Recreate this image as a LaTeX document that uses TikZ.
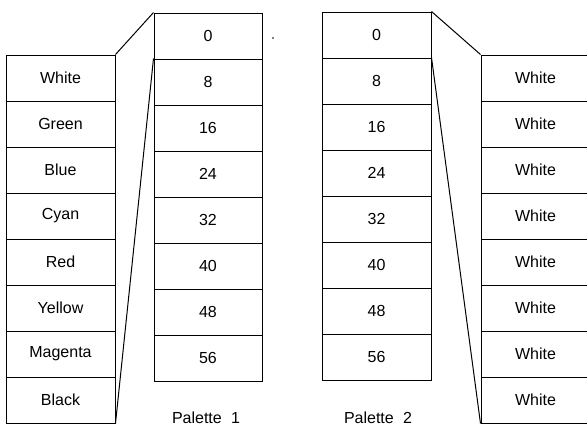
\documentclass[tikz,border=0pt]{standalone}
\usepackage{fontspec}
\setmainfont{Liberation Sans}
\begin{document}
\begin{tikzpicture}[x=1pt,y=-1pt,
  cell/.style={draw, line width=1pt, minimum width=109pt, minimum height=46pt, inner sep=0pt, font=\fontsize{16}{18}\selectfont},
  lbl/.style={inner sep=0pt, font=\fontsize{16}{18}\selectfont},
  link/.style={line width=1pt}]
\useasboundingbox (0,0) rectangle (587,426);
\clip (0,0) rectangle (587,426);
\foreach \c [count=\i from 0] in {White,Green,Blue,Cyan,Red,Yellow,Magenta,Black}
  \node[cell] (L\i) at (60.5,{78+46*\i}) {\c};
\foreach \n [count=\i from 0] in {0,8,16,24,32,40,48,56}
  \node[cell, minimum width=108pt] (A\i) at (208,{36+46*\i}) {\n};
\foreach \n [count=\i from 0] in {0,8,16,24,32,40,48,56}
  \node[cell] (B\i) at (376.5,{35+46*\i}) {\n};
\foreach \i in {0,...,7}
  \node[cell] (R\i) at (535.5,{78+46*\i}) {White};
\node[lbl, anchor=base] (P1) at (206,423) {Palette\kern0.3em\ 1};
\node[lbl, anchor=base] (P2) at (378,423) {Palette\kern0.3em\ 2};
\fill (273,38) circle (0.9);
\draw[link] (L0.north east) -- (A0.north west);
\draw[link] (L7.south east) -- (A1.north west);
\draw[link] (B0.north east) -- (R0.north west);
\draw[link] (B1.north east) -- (R7.south west);
\end{tikzpicture}
\end{document}
